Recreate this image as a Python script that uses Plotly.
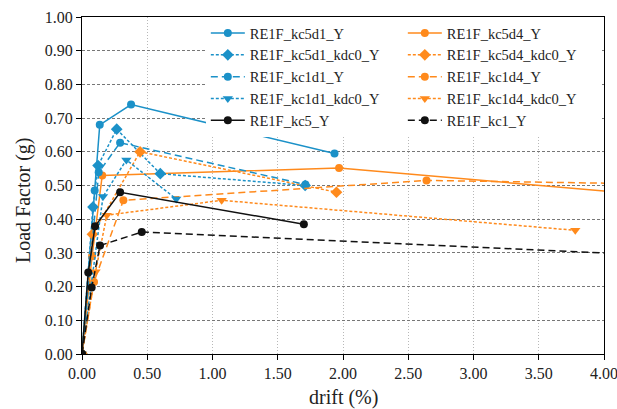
import plotly.graph_objects as go

# ---- data (drift %, load factor g) ----
kc5d1_x = [0, 0.097, 0.136, 0.376, 1.935]
kc5d1_y = [0, 0.485, 0.680, 0.740, 0.595]

kc5d4_x = [0, 0.077, 0.155, 1.97, 4.5]
kc5d4_y = [0, 0.290, 0.530, 0.552, 0.467]

kc5d1_kdc0_x = [0, 0.084, 0.123, 0.266, 0.600, 1.71]
kc5d1_kdc0_y = [0, 0.436, 0.559, 0.667, 0.535, 0.500]

kc5d4_kdc0_x = [0, 0.080, 0.445, 1.95]
kc5d4_kdc0_y = [0, 0.355, 0.600, 0.480]

kc1d1_x = [0, 0.128, 0.292, 1.712]
kc1d1_y = [0, 0.539, 0.627, 0.503]

kc1d4_x = [0, 0.092, 0.317, 2.64, 4.5]
kc1d4_y = [0, 0.214, 0.456, 0.515, 0.504]

kc1d1_kdc0_x = [0, 0.161, 0.340, 0.722]
kc1d1_kdc0_y = [0, 0.467, 0.576, 0.460]

kc1d4_kdc0_x = [0, 0.104, 0.190, 1.07, 3.78]
kc1d4_kdc0_y = [0, 0.244, 0.412, 0.456, 0.367]

kc5_x = [0, 0.048, 0.100, 0.292, 1.70]
kc5_y = [0, 0.242, 0.379, 0.480, 0.385]

kc1_x = [0, 0.074, 0.138, 0.458, 4.5]
kc1_y = [0, 0.197, 0.322, 0.362, 0.291]

x_ticks = [0, 0.5, 1.0, 1.5, 2.0, 2.5, 3.0, 3.5, 4.0]
y_ticks = [0, 0.1, 0.2, 0.3, 0.4, 0.5, 0.6, 0.7, 0.8, 0.9, 1.0]

BLUE = "#1b91c8"
ORANGE = "#ff8a1c"
BLACK = "#111111"
FONT = "Liberation Serif, Times New Roman, serif"
TXT = "#222222"

series = [
    ("RE1F_kc5d1_Y", kc5d1_x, kc5d1_y, BLUE, "solid", "circle", 8),
    ("RE1F_kc5d4_Y", kc5d4_x, kc5d4_y, ORANGE, "solid", "circle", 8),
    ("RE1F_kc5d1_kdc0_Y", kc5d1_kdc0_x, kc5d1_kdc0_y, BLUE, "3px,2px", "diamond", 9),
    ("RE1F_kc5d4_kdc0_Y", kc5d4_kdc0_x, kc5d4_kdc0_y, ORANGE, "3px,2px", "diamond", 9),
    ("RE1F_kc1d1_Y", kc1d1_x, kc1d1_y, BLUE, "7px,4px", "circle", 8),
    ("RE1F_kc1d4_Y", kc1d4_x, kc1d4_y, ORANGE, "7px,4px", "circle", 8),
    ("RE1F_kc1d1_kdc0_Y", kc1d1_kdc0_x, kc1d1_kdc0_y, BLUE, "3px,2px", "triangle-down", 9),
    ("RE1F_kc1d4_kdc0_Y", kc1d4_kdc0_x, kc1d4_kdc0_y, ORANGE, "3px,2px", "triangle-down", 9),
    ("RE1F_kc5_Y", kc5_x, kc5_y, BLACK, "solid", "circle", 8),
    ("RE1F_kc1_Y", kc1_x, kc1_y, BLACK, "7px,4px", "circle", 8),
]

fig = go.Figure()
for name, xs, ys, col, dash, sym, sz in series:
    fig.add_trace(go.Scatter(
        x=xs, y=ys, name=name, mode="lines+markers",
        line=dict(color=col, width=1.5, dash=dash),
        marker=dict(color=col, symbol=sym, size=sz),
    ))

fig.update_layout(
    template="none",
    width=617, height=409,
    margin=dict(l=82, r=13, t=17, b=55),
    paper_bgcolor="white", plot_bgcolor="white",
    font=dict(family=FONT, size=16, color=TXT),
    showlegend=True,
    legend=dict(
        orientation="h", x=0.992, xanchor="right", y=1, yanchor="top",
        entrywidth=148, entrywidthmode="pixels",
        bgcolor="white", borderwidth=0, itemwidth=34,
        font=dict(family=FONT, size=14.5, color=TXT),
        tracegroupgap=0,
    ),
    xaxis=dict(
        range=[0, 4], tickvals=x_ticks, tickformat=".2f",
        showline=True, linecolor="black", linewidth=1, mirror=True,
        ticks="outside", ticklen=5, tickcolor="black", tickwidth=1,
        showgrid=True, gridcolor="#b8b8b8", griddash="1px,2px", gridwidth=1,
        zeroline=False, ticklabeloverflow="allow",
        tickfont=dict(family=FONT, size=16, color=TXT),
    ),
    yaxis=dict(
        range=[0, 1], tickvals=y_ticks, tickformat=".2f",
        showline=True, linecolor="black", linewidth=1, mirror=True,
        ticks="outside", ticklen=5, tickcolor="black", tickwidth=1,
        showgrid=True, gridcolor="#777777", griddash="3px,2px", gridwidth=1,
        zeroline=False, ticklabeloverflow="allow",
        tickfont=dict(family=FONT, size=16, color=TXT),
    ),
    annotations=[
        dict(text="drift (%)", xref="paper", yref="paper",
             x=0.5, y=-0.13, xanchor="center", yanchor="middle",
             showarrow=False, font=dict(family=FONT, size=20, color=TXT)),
        dict(text="Load Factor (g)", xref="paper", yref="paper",
             x=-0.111, y=0.457, xanchor="center", yanchor="middle",
             textangle=-90, showarrow=False,
             font=dict(family=FONT, size=20, color=TXT)),
    ],
)

fig.write_html(
    "out.html",
    config={"displayModeBar": False},
    post_script="document.body.style.margin='0';document.body.style.padding='0';",
)
